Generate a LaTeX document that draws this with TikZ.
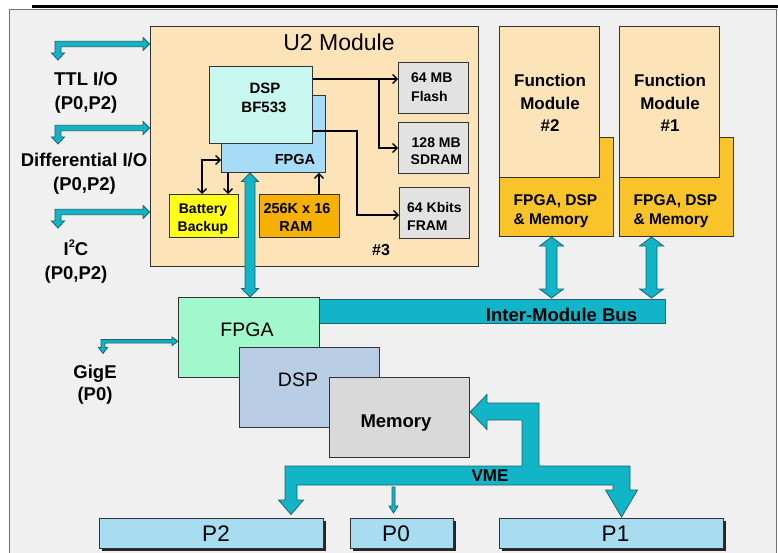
\documentclass[tikz,border=0pt]{standalone}
\usepackage{fontspec}
\setmainfont{Liberation Sans}
\usetikzlibrary{arrows.meta,shadows}
\definecolor{bgc}{HTML}{F0F0F0}
\definecolor{peach}{HTML}{FDE4B8}
\definecolor{dspc}{HTML}{C8F7F0}
\definecolor{fpgac}{HTML}{A6DCF5}
\definecolor{battc}{HTML}{FFFF1A}
\definecolor{ramc}{HTML}{F5B000}
\definecolor{fmc}{HTML}{F8C42A}
\definecolor{memc}{HTML}{E2E2E2}
\definecolor{lfpga}{HTML}{A0F8CC}
\definecolor{ldsp}{HTML}{B9CDE5}
\definecolor{lmem}{HTML}{D9D9D9}
\definecolor{pc}{HTML}{A8DCF0}
\definecolor{tealc}{HTML}{12B4C8}
\definecolor{teald}{HTML}{1E6470}
\newcommand{\fsz}[1]{\fontsize{#1}{#1}\selectfont}
\newcommand{\vdarrow}[6]{%
 \filldraw[tealb] (#1,#2) -- ({#1+#5},{#2+#6}) -- ({#1+#4},{#2+#6}) -- ({#1+#4},{#3-#6}) -- ({#1+#5},{#3-#6}) -- (#1,#3) -- ({#1-#5},{#3-#6}) -- ({#1-#4},{#3-#6}) -- ({#1-#4},{#2+#6}) -- ({#1-#5},{#2+#6}) -- cycle;}
\newcommand{\ioarrow}[1]{%
 \filldraw[tealb] (55,{#1-2.7}) -- (143,{#1-2.7}) -- (143,{#1-6.5}) -- (149.5,#1) -- (143,{#1+6.5}) -- (143,{#1+2.7}) -- (61,{#1+2.7}) -- (61,{#1+9}) -- (64.5,{#1+9}) -- (58,{#1+16}) -- (51.5,{#1+9}) -- (55,{#1+9}) -- cycle;}
\begin{document}
\begin{tikzpicture}[x=1pt,y=-1pt,
  box/.style={draw=black!80, line width=0.9pt, inner sep=0pt, anchor=north west},
  txt/.style={anchor=base, inner sep=0pt},
  ltxt/.style={anchor=base west, inner sep=0pt},
  barrow/.style={draw=black, line width=1.4pt, -{Straight Barb[length=4.5pt,width=9pt]}},
  tealb/.style={fill=tealc, draw=teald, line width=0.8pt, line join=miter},
  pbox/.style={box, fill=pc, general shadow={fill=black!85, shadow xshift=3pt, shadow yshift=-3pt}},
]
\useasboundingbox (0,0) rectangle (778,553);
\fill[white] (0,0) rectangle (778,553);
\clip (0,0) rectangle (778,553);
% frame
\draw[fill=bgc, draw=black!55, line width=0.9pt] (9.5,9.5) rectangle (776,570);
\draw[line width=3.2pt] (32,6.5) -- (778,6.5);

% U2 module
\node[box, fill=peach, minimum width=328, minimum height=240] (u2) at (150,26) {};
\node[txt, font=\fsz{23}] (u2t) at (339,51) {U2 Module};
\node[box, fill=fpgac, minimum width=104, minimum height=77] (fpgau) at (221,95) {};
\node[box, fill=dspc, minimum width=103, minimum height=77] (dsp) at (209,66) {};
\node[txt, font=\bfseries\fsz{15}] (dspt1) at (265,94) {DSP};
\node[txt, font=\bfseries\fsz{15}] (dspt2) at (264,112.5) {BF533};
\node[txt, font=\bfseries\fsz{14.5}] (fpgaut) at (295,165) {FPGA};
\node[box, fill=battc, minimum width=69, minimum height=43] (batt) at (169,194) {};
\node[txt, font=\bfseries\fsz{14}] (battt1) at (203,214) {Battery};
\node[txt, font=\bfseries\fsz{14}] (battt2) at (203,231) {Backup};
\node[box, fill=ramc, minimum width=80, minimum height=43] (ram) at (259,194) {};
\node[txt, font=\bfseries\fsz{14.5}] (ramt1) at (297,214) {256K x 16};
\node[txt, font=\bfseries\fsz{14.5}] (ramt2) at (296,231) {RAM};
\node[txt, font=\bfseries\fsz{16}] (n3) at (381,255) {\#3};
\node[box, fill=memc, minimum width=70, minimum height=51] (flash) at (398,62) {};
\node[ltxt, font=\bfseries\fsz{14}] (flasht1) at (411,83) {64 MB};
\node[ltxt, font=\bfseries\fsz{14}] (flasht2) at (411,102) {Flash};
\node[box, fill=memc, minimum width=70, minimum height=51] (sdram) at (398,122) {};
\node[ltxt, font=\bfseries\fsz{14}] (sdramt1) at (411.5,148) {128 MB};
\node[ltxt, font=\bfseries\fsz{14}] (sdramt2) at (410.5,165) {SDRAM};
\node[box, fill=memc, minimum width=70, minimum height=51] (fram) at (399,187) {};
\node[ltxt, font=\bfseries\fsz{14}] (framt1) at (407,213) {64 Kbits};
\node[ltxt, font=\bfseries\fsz{14}] (framt2) at (407,230) {FRAM};

% black connectors
\draw[barrow] (dsp.east |- 0,79) -- (flash.west |- 0,79);
\draw[barrow] (379,79) |- (sdram.west |- 0,148);
\draw[barrow] (dsp.east |- 0,131) -| (357,215) -- (fram.west |- 0,215);
\draw[barrow, {Straight Barb[length=4.5pt,width=9pt]}-{Straight Barb[length=4.5pt,width=9pt]}] (batt.north -| 202,0) |- (fpgau.west |- 0,160);
\draw[barrow] (fpgau.south -| 228,0) -- (batt.north -| 228,0);
\draw[barrow] (ram.north -| 319,0) -- (fpgau.south -| 319,0);

% function modules
\node[box, fill=fmc, minimum width=114, minimum height=99] (fm2b) at (499,137) {};
\node[box, fill=peach, minimum width=100, minimum height=151] (fm2) at (499,26) {};
\node[box, fill=fmc, minimum width=114, minimum height=99] (fm1b) at (619,137) {};
\node[box, fill=peach, minimum width=100, minimum height=151] (fm1) at (619,26) {};
\foreach \cx/\nm/\id in {550/2/a, 670/1/b}{
  \node[txt, font=\bfseries\fsz{17}] (fmt1\id) at (\cx,87) {Function};
  \node[txt, font=\bfseries\fsz{17}] (fmt2\id) at (\cx,110) {Module};
  \node[txt, font=\bfseries\fsz{17}] (fmt3\id) at (\cx,132) {\#\nm};
  \node[txt, font=\bfseries\fsz{15.5}] (fmt4\id) at (\cx+5.5,206) {FPGA, DSP};
  \node[txt, font=\bfseries\fsz{15.5}] (fmt5\id) at (\cx+1,225) {\& Memory};
}

% inter-module bus
\node[box, fill=tealc, draw=teald, line width=0.8pt, minimum width=347, minimum height=24.5] (imb) at (318,298.5) {};
\node[txt, font=\bfseries\fsz{18.5}] (imbt) at (561.5,321) {Inter-Module Bus};

% teal vertical double arrows
\vdarrow{250}{173}{297}{5}{8.5}{8.5}
\vdarrow{551.5}{237}{298}{5.5}{12}{9}
\vdarrow{651.5}{237}{298}{5.5}{12}{9}

% lower stack
\node[box, fill=lfpga, minimum width=141, minimum height=80] (lfp) at (178,297) {};
\node[txt, font=\fsz{19.5}] (lfpt) at (247,336.5) {FPGA};
\node[box, fill=ldsp, minimum width=140, minimum height=80] (lds) at (239,347) {};
\node[txt, font=\fsz{19.5}] (ldst) at (298,386.5) {DSP};
\node[box, fill=lmem, minimum width=140, minimum height=80] (lme) at (329,377) {};
\node[txt, font=\bfseries\fsz{18.5}] (lmet) at (396,427) {Memory};

% GigE arrow
\filldraw[tealb] (101,339.6) -- (172,339.6) -- (172,337) -- (178,341.3) -- (172,345.6) -- (172,343) -- (105,343) -- (105,347.5) -- (107.5,347.5) -- (103,353.5) -- (98.5,347.5) -- (101,347.5) -- cycle;
\node[txt, font=\bfseries\fsz{18.5}] (gig1) at (95,378) {GigE};
\node[txt, font=\bfseries\fsz{18.5}] (gig2) at (95,400) {(P0)};

% VME bus
\filldraw[tealb] (285,466) -- (522,466) -- (522,420) -- (487,420) -- (487,429.5) -- (470,412) -- (487,394.5) -- (487,403) -- (539,403) -- (539,466) -- (630,466) -- (630,490) -- (637.5,490) -- (621.5,517) -- (605.5,490) -- (613,490) -- (613,485) -- (297,485) -- (297,500) -- (303.5,500) -- (291,514.5) -- (278.5,500) -- (285,500) -- cycle;
\node[txt, font=\bfseries\fsz{17}] (vme) at (490,481.5) {VME};
\filldraw[tealb] (392,487) -- (395,487) -- (395,506) -- (398,506) -- (393.5,513) -- (389,506) -- (392,506) -- cycle;

% P connectors
\node[pbox, minimum width=224, minimum height=30] (p2) at (99,518) {};
\node[txt, font=\fsz{22.5}] (p2t) at (216,541.5) {P2};
\node[pbox, minimum width=103, minimum height=30] (p0) at (350,518) {};
\node[txt, font=\fsz{22.5}] (p0t) at (396,541.5) {P0};
\node[pbox, minimum width=224, minimum height=30] (p1) at (499,518) {};
\node[txt, font=\fsz{22.5}] (p1t) at (615.5,541.5) {P1};

% left I/O
\ioarrow{44}
\ioarrow{128}
\ioarrow{212}
\node[txt, font=\bfseries\fsz{18.5}] (ttl1) at (86,86) {TTL I/O};
\node[txt, font=\bfseries\fsz{18.5}] (ttl2) at (86,110) {(P0,P2)};
\node[txt, font=\bfseries\fsz{18.5}] (dif1) at (84,167) {Differential I/O};
\node[txt, font=\bfseries\fsz{18.5}] (dif2) at (84.5,191) {(P0,P2)};
\node[txt, font=\bfseries\fsz{18.5}] (i2c1) at (76,255) {I\raisebox{0.42em}{\fsz{11}2}C};
\node[txt, font=\bfseries\fsz{18.5}] (i2c2) at (76,279) {(P0,P2)};
\end{tikzpicture}
\end{document}
